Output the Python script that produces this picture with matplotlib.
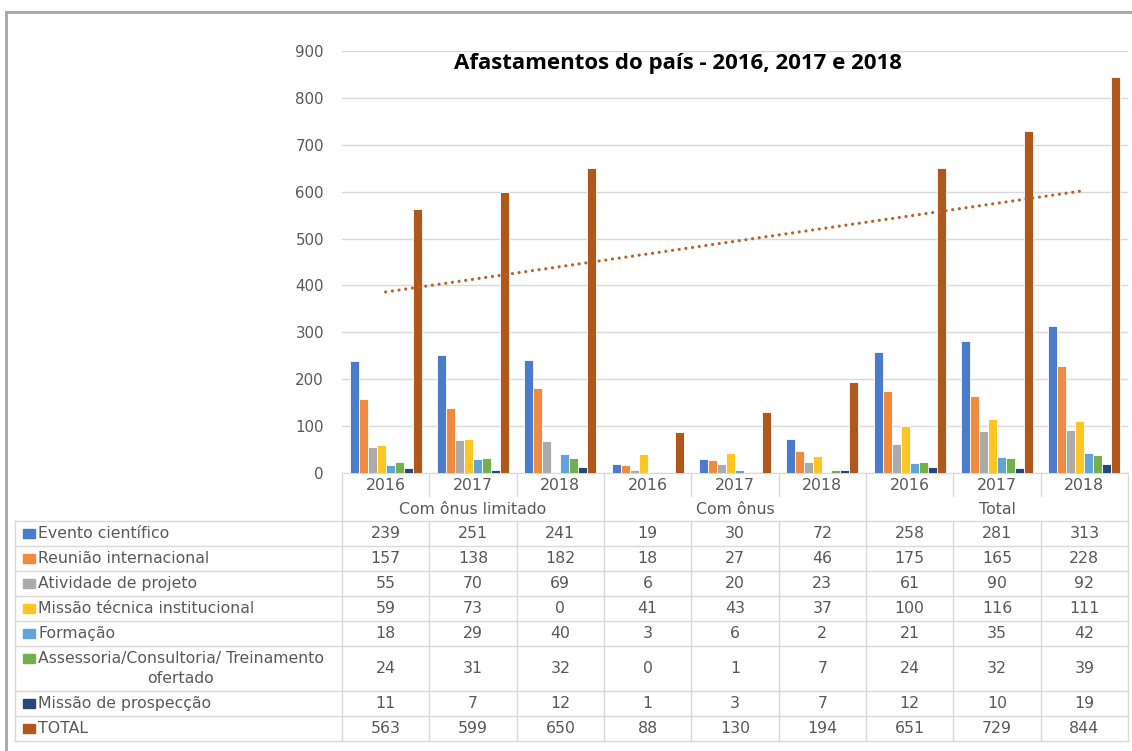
import matplotlib
matplotlib.use("Agg")
import matplotlib.pyplot as plt
from matplotlib.patches import Rectangle
import numpy as np

plt.rcParams["font.family"] = ["DejaVu Sans"]

# --- data -------------------------------------------------------------
years = ["2016", "2017", "2018"] * 3
groups = ["Com ônus limitado", "Com ônus", "Total"]

series_names = [
    "Evento científico",
    "Reunião internacional",
    "Atividade de projeto",
    "Missão técnica institucional",
    "Formação",
    "Assessoria/Consultoria/ Treinamento\nofertado",
    "Missão de prospecção",
    "TOTAL",
]
evento = [239, 251, 241, 19, 30, 72, 258, 281, 313]
reuniao = [157, 138, 182, 18, 27, 46, 175, 165, 228]
atividade = [55, 70, 69, 6, 20, 23, 61, 90, 92]
missao_tecnica = [59, 73, 0, 41, 43, 37, 100, 116, 111]
formacao = [18, 29, 40, 3, 6, 2, 21, 35, 42]
assessoria = [24, 31, 32, 0, 1, 7, 24, 32, 39]
prospeccao = [11, 7, 12, 1, 3, 7, 12, 10, 19]
total = [563, 599, 650, 88, 130, 194, 651, 729, 844]
series_values = [evento, reuniao, atividade, missao_tecnica, formacao,
                 assessoria, prospeccao, total]

colors = ["#4A7CCB", "#F08A3E", "#ABABAB", "#FFC523", "#62A3DA",
          "#72B04E", "#27467C", "#B0581B"]

# --- layout (pixels) --------------------------------------------------
W, H = 1132, 751
L, R = 342, 1128          # plot / table columns
Y0, Y900 = 473, 51        # y pixel of 0 and 900
TL = 15                   # table left border
row_lines = [521, 546, 571, 596, 621, 646, 691, 716, 741]
grid_c = "#D9D9D9"
txt_c = "#595959"
fs = 11.3

fig = plt.figure(figsize=(W / 100, H / 100), dpi=100)
ax = fig.add_axes([L / W, 1 - Y0 / H, (R - L) / W, (Y0 - Y900) / H])

n = len(years)
x = np.arange(n)
bw = 0.103
for k, (vals, c) in enumerate(zip(series_values, colors)):
    ax.bar(x + (k - 3.5) * bw, vals, width=bw, color=c,
           edgecolor="white", linewidth=0.6, zorder=3)

# linear trendline on TOTAL
coef = np.polyfit(x, total, 1)
ax.plot(x, np.polyval(coef, x), linestyle=(0, (0.01, 2.1)), color="#B8612A",
        linewidth=2.3, zorder=4, dash_capstyle="round")

ax.set_xlim(-0.5, n - 0.5)
ax.set_ylim(0, 900)
ax.set_yticks(range(0, 901, 100))
ax.set_xticks([])
ax.tick_params(axis="y", length=0, pad=13, labelsize=10.8, labelcolor=txt_c)
ax.grid(axis="y", color=grid_c, linewidth=1, zorder=0)
for s in ["top", "right", "left"]:
    ax.spines[s].set_visible(False)
ax.spines["bottom"].set_color(grid_c)
ax.patch.set_visible(False)

fig.text(678 / W, 1 - 64 / H, "Afastamentos do país - 2016, 2017 e 2018",
         ha="center", va="center", fontsize=16, fontweight="bold",
         color="black", family=["Open Sans", "DejaVu Sans"])

# --- data table overlay ----------------------------------------------
ov = fig.add_axes([0, 0, 1, 1])
ov.set_xlim(0, W)
ov.set_ylim(H, 0)
ov.axis("off")
ov.patch.set_visible(False)

cw = (R - L) / n
col_x = [L + k * cw for k in range(n + 1)]
lk = dict(color=grid_c, linewidth=1)

# category header: years and groups
for k in range(n + 1):
    if k % 3 == 0:
        ov.plot([col_x[k], col_x[k]], [Y0, row_lines[-1]], **lk)
    else:
        ov.plot([col_x[k], col_x[k]], [Y0, 496], **lk)
        ov.plot([col_x[k], col_x[k]], [row_lines[0], row_lines[-1]], **lk)
for k, yr in enumerate(years):
    ov.text(col_x[k] + cw / 2, 485, yr, ha="center", va="center",
            fontsize=fs, color=txt_c)
for g, name in enumerate(groups):
    ov.text(col_x[3 * g] + 1.5 * cw, 509, name, ha="center", va="center",
            fontsize=fs, color=txt_c)

# rows
ov.plot([TL, TL], [row_lines[0], row_lines[-1]], **lk)
for yl in row_lines:
    ov.plot([TL, R], [yl, yl], **lk)
for r, (name, vals, c) in enumerate(zip(series_names, series_values, colors)):
    top, bot = row_lines[r], row_lines[r + 1]
    yc = (top + bot) / 2
    key_y = yc if "\n" not in name else top + 12
    ov.add_patch(Rectangle((23, key_y - 4.5), 12, 9, color=c))
    ov.text(38, yc, name, ha="left", va="center", fontsize=fs, color=txt_c,
            multialignment="center", linespacing=1.45)
    for k, v in enumerate(vals):
        ov.text(col_x[k] + cw / 2, yc, str(v), ha="center", va="center",
                fontsize=fs, color=txt_c)

# screenshot frame
ov.plot([6, W], [12, 12], color="#A6A6A6", linewidth=2)
ov.plot([6, 6], [12, H], color="#A6A6A6", linewidth=2)

fig.savefig("out.png", dpi=100)
